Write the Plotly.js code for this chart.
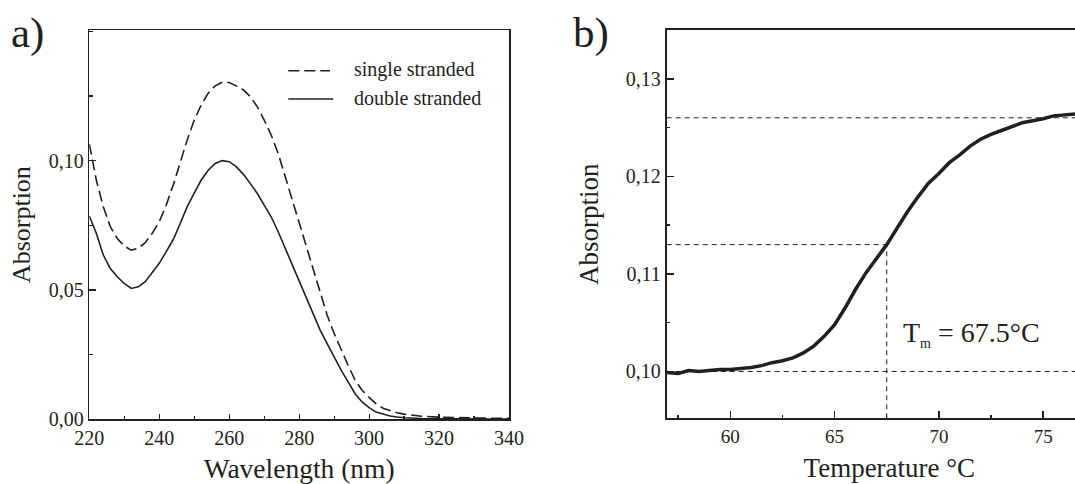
<!DOCTYPE html>
<html>
<head>
<meta charset="utf-8">
<script src="https://cdn.plot.ly/plotly-3.0.1.min.js"></script>
<style>
html,body{margin:0;padding:0;overflow:hidden;background:#fff;font-family:"Liberation Serif",serif;}
#chart{width:1115px;height:484px;}
</style>
</head>
<body>
<div id="chart"></div>
<script>
// ---------- data ----------
const seriesNames = ['single stranded', 'double stranded'];
const wavelength = [220,222,224,226,228,230,232,234,236,238,240,242,244,246,248,250,252,254,256,258,260,262,264,266,268,270,272,274,276,278,280,282,284,286,288,290,292,294,296,298,300,302,304,306,308,310,315,320,325,330,335,340];
const absSingle  = [0.1065,0.0925,0.0822,0.0745,0.0699,0.0670,0.0654,0.0661,0.0683,0.0719,0.0764,0.0828,0.0906,0.0996,0.1080,0.1157,0.1215,0.1261,0.1289,0.1303,0.1302,0.1289,0.1274,0.1248,0.1209,0.1157,0.1099,0.1028,0.0938,0.0848,0.0757,0.0667,0.0577,0.0486,0.0403,0.0332,0.0267,0.0209,0.0151,0.0112,0.0085,0.0060,0.0043,0.0033,0.0025,0.0020,0.0012,0.0008,0.0006,0.0005,0.0004,0.0004];
const absDouble  = [0.0786,0.0719,0.0635,0.0583,0.0551,0.0525,0.0506,0.0512,0.0532,0.0566,0.0603,0.0648,0.0695,0.0757,0.0822,0.0874,0.0925,0.0963,0.0989,0.1000,0.0996,0.0977,0.0948,0.0912,0.0874,0.0828,0.0783,0.0725,0.0661,0.0603,0.0538,0.0474,0.0409,0.0345,0.0293,0.0241,0.0190,0.0145,0.0099,0.0067,0.0045,0.0028,0.0019,0.0013,0.0009,0.0006,0.0003,0.0002,0.0002,0.0001,0.0001,0.0001];
const absTickVals = [0, 0.05, 0.10];

const temperature = [56.95,57.5,58,58.5,59,59.5,60,60.5,61,61.5,62,62.5,63,63.5,64,64.5,65,65.5,66,66.5,67,67.5,68,68.5,69,69.5,70,70.5,71,71.5,72,72.5,73,73.5,74,74.5,75,75.5,76,76.6];
const absMelt     = [0.0999,0.0998,0.1001,0.1000,0.1001,0.1002,0.1002,0.1003,0.1004,0.1006,0.1009,0.1011,0.1014,0.1019,0.1026,0.1036,0.1048,0.1065,0.1084,0.1101,0.1115,0.1130,0.1147,0.1164,0.1179,0.1193,0.1203,0.1214,0.1222,0.1231,0.1238,0.1243,0.1247,0.1251,0.1255,0.1257,0.1259,0.1262,0.1263,0.1264];

const meltTm = 67.5;
const levelLow = 0.100, levelMid = 0.113, levelHigh = 0.126;
const panelLabels = ['a)', 'b)'];
const tmLabel = 'T<sub><span style="font-size:14px">m</span></sub> = 67.5°C';

// ---------- layout helpers ----------
const W = 1115, H = 484;
const fx = p => p / W;
const fy = p => 1 - p / H;
const FONT = '"Liberation Serif", "Times New Roman", Times, serif';
const INK = '#231f20';
const x2Range = [56.95, 78.3];
const y2Range = [0.0952, 0.1350];

const traces = [
  {x: wavelength, y: absSingle, name: seriesNames[0], type: 'scatter', mode: 'lines',
   line: {color: INK, width: 1.6, dash: '11px,5px'}, xaxis: 'x', yaxis: 'y', showlegend: false},
  {x: wavelength, y: absDouble, name: seriesNames[1], type: 'scatter', mode: 'lines',
   line: {color: INK, width: 1.6}, xaxis: 'x', yaxis: 'y', showlegend: false},
  {x: temperature, y: absMelt, name: 'melting curve', type: 'scatter', mode: 'lines',
   line: {color: INK, width: 3.5}, xaxis: 'x2', yaxis: 'y2', showlegend: false}
];

const axisCommon = {
  showline: true, linecolor: INK, mirror: true, showgrid: false, zeroline: false,
  ticks: 'inside', tickcolor: INK, automargin: false,
  tickfont: {family: FONT, size: 20, color: INK}
};

const refDash = {color: INK, width: 1, dash: '5px,4px'};

const layout = {
  width: W, height: H,
  margin: {l: 0, r: 0, t: 0, b: 0},
  paper_bgcolor: '#fff', plot_bgcolor: 'rgba(0,0,0,0)',
  separators: ', ',
  showlegend: false,
  font: {family: FONT, color: INK},
  xaxis: Object.assign({}, axisCommon, {
    domain: [fx(89.3), fx(509)], range: [220, 340], dtick: 20, tick0: 220,
    ticklen: 5, tickwidth: 1.2, linewidth: 1.5,
    minor: {ticks: 'inside', dtick: 10, tick0: 220, ticklen: 3, tickwidth: 1.2, tickcolor: INK},
    title: {text: 'Wavelength (nm)', font: {family: FONT, size: 27.5, color: INK}, standoff: 14}
  }),
  yaxis: Object.assign({}, axisCommon, {
    domain: [fy(419.3), fy(30)], range: [0, 0.1505], tickmode: 'array', tickvals: absTickVals, tickformat: '.2f',
    ticklen: 7, tickwidth: 1.2, linewidth: 1.5,
    minor: {ticks: 'inside', tickmode: 'linear', dtick: 0.025, tick0: 0, ticklen: 3.5, tickwidth: 1.2, tickcolor: INK},
    title: {text: 'Absorption', font: {family: FONT, size: 26, color: INK}, standoff: 10}
  }),
  xaxis2: Object.assign({}, axisCommon, {
    anchor: 'y2',
    domain: [fx(666.7), fx(1112)], range: x2Range, dtick: 5, tick0: 60,
    ticklen: 7, tickwidth: 1.5, linewidth: 2,
    tickfont: {family: FONT, size: 19, color: INK},
    minor: {ticks: 'inside', dtick: 2.5, tick0: 57.5, ticklen: 3.5, tickwidth: 1.5, tickcolor: INK},
    title: {text: 'Temperature °C', font: {family: FONT, size: 27, color: INK}, standoff: 12}
  }),
  yaxis2: Object.assign({}, axisCommon, {
    anchor: 'x2',
    domain: [fy(418.3), fy(30)], range: y2Range, dtick: 0.01, tick0: 0.10, tickformat: '.2f',
    ticklen: 7, tickwidth: 1.5, linewidth: 2,
    minor: {ticks: 'inside', dtick: 0.005, tick0: 0.095, ticklen: 3.5, tickwidth: 1.5, tickcolor: INK},
    title: {text: 'Absorption', font: {family: FONT, size: 27, color: INK}, standoff: 19}
  }),
  shapes: [
    {type: 'line', layer: 'below', xref: 'x2 domain', x0: 0, x1: 1, yref: 'y2', y0: levelHigh, y1: levelHigh, line: refDash},
    {type: 'line', layer: 'below', xref: 'x2 domain', x0: 0, x1: 1, yref: 'y2', y0: levelLow, y1: levelLow, line: refDash},
    {type: 'line', layer: 'below', xref: 'x2', x0: x2Range[0], x1: meltTm, yref: 'y2', y0: levelMid, y1: levelMid, line: refDash},
    {type: 'line', layer: 'below', xref: 'x2', x0: meltTm, x1: meltTm, yref: 'y2', y0: y2Range[0], y1: levelMid, line: refDash},
    {type: 'line', xref: 'paper', yref: 'paper', x0: fx(288.3), x1: fx(330), y0: fy(70.7), y1: fy(70.7), line: {color: INK, width: 1.6, dash: '11px,5px'}},
    {type: 'line', xref: 'paper', yref: 'paper', x0: fx(288.3), x1: fx(333.3), y0: fy(99), y1: fy(99), line: {color: INK, width: 1.6}}
  ],
  annotations: [
    {text: seriesNames[0], xref: 'paper', yref: 'paper', x: fx(352), y: fy(69), xanchor: 'left', yanchor: 'middle', showarrow: false, font: {family: FONT, size: 20, color: INK}},
    {text: seriesNames[1], xref: 'paper', yref: 'paper', x: fx(352), y: fy(98), xanchor: 'left', yanchor: 'middle', showarrow: false, font: {family: FONT, size: 20, color: INK}},
    {text: panelLabels[0], xref: 'paper', yref: 'paper', x: fx(9), y: fy(33), xanchor: 'left', yanchor: 'middle', showarrow: false, font: {family: FONT, size: 43, color: INK}},
    {text: panelLabels[1], xref: 'paper', yref: 'paper', x: fx(571), y: fy(33), xanchor: 'left', yanchor: 'middle', showarrow: false, font: {family: FONT, size: 43, color: INK}},
    {text: tmLabel, xref: 'x2', yref: 'y2', x: meltTm + 0.7, y: 0.1038, xanchor: 'left', yanchor: 'middle', showarrow: false, font: {family: FONT, size: 28, color: INK}}
  ]
};

Plotly.newPlot('chart', traces, layout, {staticPlot: true, displayModeBar: false});
</script>
</body>
</html>
